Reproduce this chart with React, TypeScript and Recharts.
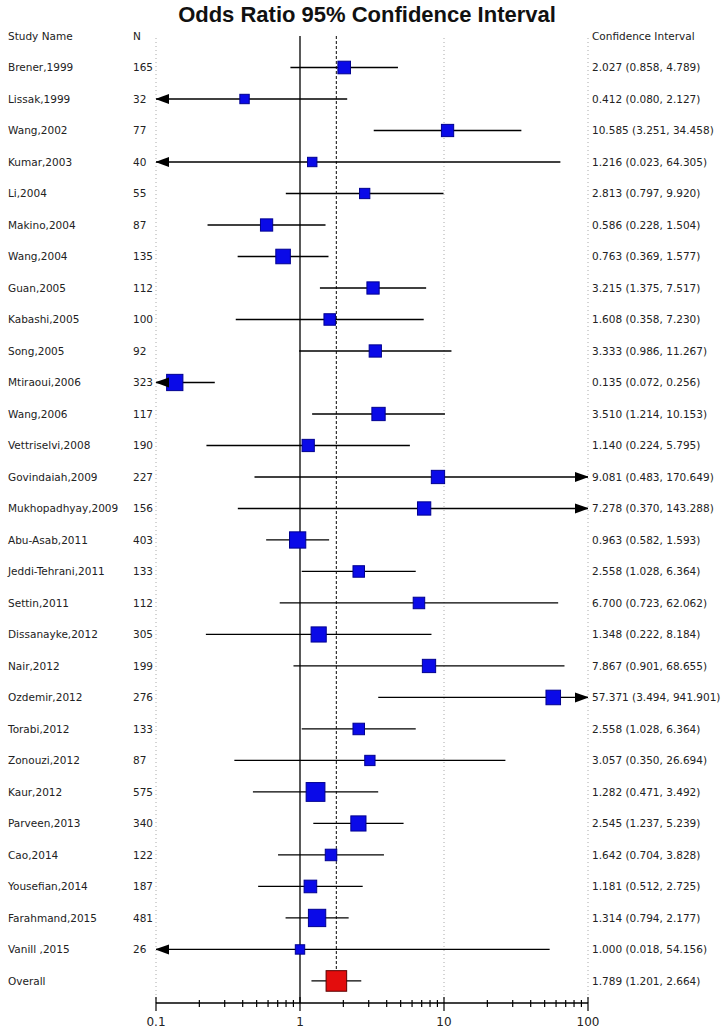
import React from 'react';
import { ScatterChart, Scatter, XAxis, YAxis, ErrorBar, ReferenceLine } from 'recharts';

const studies = [
  'Brener,1999', 'Lissak,1999', 'Wang,2002', 'Kumar,2003', 'Li,2004', 'Makino,2004', 'Wang,2004',
  'Guan,2005', 'Kabashi,2005', 'Song,2005', 'Mtiraoui,2006', 'Wang,2006', 'Vettriselvi,2008',
  'Govindaiah,2009', 'Mukhopadhyay,2009', 'Abu-Asab,2011', 'Jeddi-Tehrani,2011', 'Settin,2011',
  'Dissanayke,2012', 'Nair,2012', 'Ozdemir,2012', 'Torabi,2012', 'Zonouzi,2012', 'Kaur,2012',
  'Parveen,2013', 'Cao,2014', 'Yousefian,2014', 'Farahmand,2015', 'Vanill ,2015',
];
const sampleSizes = [
  165, 32, 77, 40, 55, 87, 135, 112, 100, 92, 323, 117, 190, 227, 156, 403, 133, 112, 305, 199,
  276, 133, 87, 575, 340, 122, 187, 481, 26,
];
const oddsRatios = [
  2.027, 0.412, 10.585, 1.216, 2.813, 0.586, 0.763, 3.215, 1.608, 3.333, 0.135, 3.51, 1.14, 9.081,
  7.278, 0.963, 2.558, 6.7, 1.348, 7.867, 57.371, 2.558, 3.057, 1.282, 2.545, 1.642, 1.181, 1.314, 1.0,
];
const lowerCI = [
  0.858, 0.08, 3.251, 0.023, 0.797, 0.228, 0.369, 1.375, 0.358, 0.986, 0.072, 1.214, 0.224, 0.483,
  0.37, 0.582, 1.028, 0.723, 0.222, 0.901, 3.494, 1.028, 0.35, 0.471, 1.237, 0.704, 0.512, 0.794, 0.018,
];
const upperCI = [
  4.789, 2.127, 34.458, 64.305, 9.92, 1.504, 1.577, 7.517, 7.23, 11.267, 0.256, 10.153, 5.795, 170.649,
  143.288, 1.593, 6.364, 62.062, 8.184, 68.655, 941.901, 6.364, 26.694, 3.492, 5.239, 3.828, 2.725,
  2.177, 54.156,
];
// relative weights
const boxWeights = [
  9, 5, 8.5, 5, 6, 8.5, 12, 8.5, 7.5, 8.5, 15, 10, 8.5, 10, 10, 15, 7.5, 7.5, 13, 10,
  12, 7.5, 6, 20, 13, 7.5, 9, 17, 5,
];
const overallLabel = 'Overall';
const overallOR = 1.789;
const overallLower = 1.201;
const overallUpper = 2.664;
const overallWeight = 24;

const xDomain = [0.1, 100];
const majorTicks = [0.1, 1, 10, 100];
const minorTicks = [
  0.2, 0.3, 0.4, 0.5, 0.6, 0.7, 0.8, 0.9, 2, 3, 4, 5, 6, 7, 8, 9, 20, 30, 40, 50, 60, 70, 80, 90,
];

const fmt = (v: number) => v.toFixed(3);
const overallRow = studies.length;

const rows = [
  ...studies.map((name, i) => ({
    name,
    n: String(sampleSizes[i]),
    x: oddsRatios[i],
    y: i,
    lo: lowerCI[i],
    hi: upperCI[i],
    w: boxWeights[i],
    overall: false,
  })),
  {
    name: overallLabel,
    n: '',
    x: overallOR,
    y: overallRow,
    lo: overallLower,
    hi: overallUpper,
    w: overallWeight,
    overall: true,
  },
].map((r) => ({
  ...r,
  err: [r.x - Math.max(r.lo, xDomain[0]), Math.min(r.hi, xDomain[1]) - r.x],
  ci: `${fmt(r.x)} (${fmt(r.lo)}, ${fmt(r.hi)})`,
}));

const arrows = [
  ...rows.filter((r) => r.lo < xDomain[0]).map((r) => ({ x: xDomain[0], y: r.y, dir: -1 })),
  ...rows.filter((r) => r.hi > xDomain[1]).map((r) => ({ x: xDomain[1], y: r.y, dir: 1 })),
];

const rowTicks = [-1, ...rows.map((r) => r.y)];
const textStyle = { fontFamily: '"DejaVu Sans", sans-serif', fontSize: 10.5, fill: '#222' };

const LeftLabel = (props: any) => {
  const { y, payload } = props;
  const r = rows[payload.value];
  const name = payload.value < 0 ? 'Study Name' : r.name;
  const n = payload.value < 0 ? 'N' : r.n;
  return (
    <g>
      <text x={8} y={y} dominantBaseline="central" {...textStyle}>{name}</text>
      <text x={133} y={y} dominantBaseline="central" {...textStyle}>{n}</text>
    </g>
  );
};

const RightLabel = (props: any) => {
  const { y, payload } = props;
  const label = payload.value < 0 ? 'Confidence Interval' : rows[payload.value].ci;
  return (
    <text x={592} y={y} dominantBaseline="central" {...textStyle}>{label}</text>
  );
};

const AxisTick = (props: any) => {
  const { x, y, payload } = props;
  const major = majorTicks.includes(payload.value);
  return (
    <g>
      <line x1={x} x2={x} y1={y - (major ? 6 : 3)} y2={y + (major ? 8 : 4)} stroke="#000" strokeWidth={1.2} />
      {major && (
        <text x={x} y={y + 19} textAnchor="middle" dominantBaseline="central" {...textStyle} fontSize={12}>
          {payload.value}
        </text>
      )}
    </g>
  );
};

const Box = (props: any) => {
  const { cx, cy, payload } = props;
  const s = 4.2 * Math.sqrt(payload.w);
  return (
    <rect
      x={cx - s / 2}
      y={cy - s / 2}
      width={s}
      height={s}
      fill={payload.overall ? '#e30d0d' : '#0a0ae8'}
      stroke={payload.overall ? '#5a0000' : '#000090'}
      strokeWidth={1}
    />
  );
};

const Arrow = (props: any) => {
  const { cx, cy, payload } = props;
  const d = payload.dir;
  const len = 13;
  return (
    <path
      d={`M${cx + d * 1},${cy} L${cx - d * len},${cy - 5} L${cx - d * len},${cy + 5} Z`}
      fill="#000"
    />
  );
};

const NoShape = () => <g />;

export default function App() {
  return (
    <div style={{ position: 'absolute', left: 0, top: 0, width: 724, height: 1029, background: '#fff' }}>
      <div
        style={{
          position: 'absolute',
          top: 0,
          left: 5,
          width: 724,
          textAlign: 'center',
          fontFamily: '"Liberation Sans", Arial, sans-serif',
          fontWeight: 'bold',
          fontSize: 22,
          lineHeight: '30px',
          color: '#111',
        }}
      >
        Odds Ratio 95% Confidence Interval
      </div>
      <ScatterChart width={724} height={1029} margin={{ top: 36, right: 0, bottom: 0, left: 0 }}>
        <XAxis
          dataKey="x"
          type="number"
          scale="log"
          domain={xDomain}
          allowDataOverflow
          ticks={[...majorTicks, ...minorTicks]}
          interval={0}
          tickLine={false}
          tickSize={0}
          tickMargin={0}
          tick={<AxisTick />}
          axisLine={{ stroke: '#000', strokeWidth: 1.5 }}
          height={26}
        />
        <YAxis
          yAxisId="left"
          dataKey="y"
          type="number"
          domain={[-1, 29.7]}
          reversed
          allowDataOverflow
          ticks={rowTicks}
          interval={0}
          axisLine={false}
          tickLine={false}
          tick={<LeftLabel />}
          width={156}
        />
        <YAxis
          yAxisId="right"
          orientation="right"
          dataKey="y"
          type="number"
          domain={[-1, 29.7]}
          reversed
          allowDataOverflow
          ticks={rowTicks}
          interval={0}
          axisLine={false}
          tickLine={false}
          tick={<RightLabel />}
          width={136}
        />
        {[0.1, 10, 100].map((v) => (
          <ReferenceLine key={v} x={v} yAxisId="left" stroke="#aaa" strokeDasharray="1 3" />
        ))}
        <ReferenceLine x={1} yAxisId="left" stroke="#000" strokeWidth={1.3} />
        <ReferenceLine
          yAxisId="left"
          segment={[{ x: overallOR, y: -1 }, { x: overallOR, y: overallRow + 0.3 }]}
          stroke="#333"
          strokeDasharray="3 2"
          strokeWidth={1.2}
        />
        <Scatter yAxisId="left" data={rows} shape={<NoShape />} isAnimationActive={false}>
          <ErrorBar dataKey="err" direction="x" width={0} stroke="#000" strokeWidth={1.3} isAnimationActive={false} />
        </Scatter>
        <Scatter yAxisId="left" data={rows} shape={<Box />} isAnimationActive={false} />
        <Scatter yAxisId="left" data={arrows} shape={<Arrow />} isAnimationActive={false} />
      </ScatterChart>
    </div>
  );
}
